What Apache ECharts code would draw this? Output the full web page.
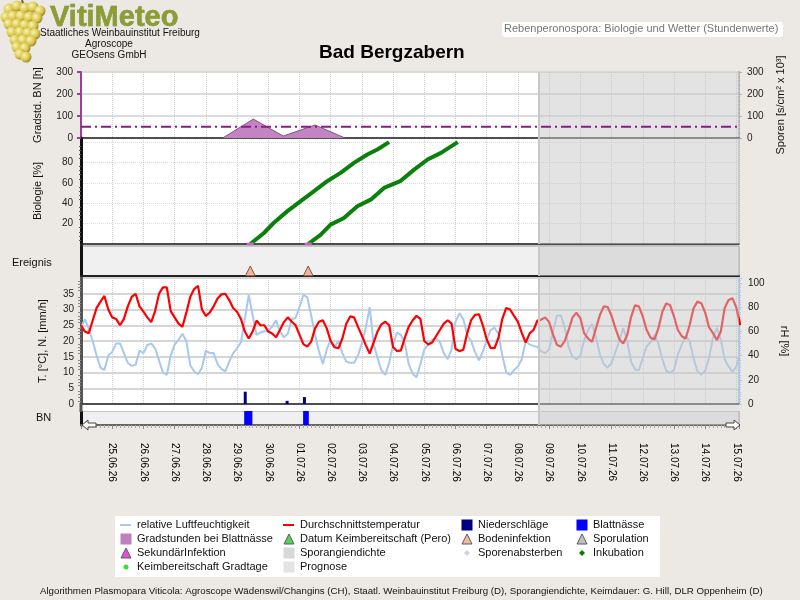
<!DOCTYPE html>
<html>
<head>
<meta charset="utf-8">
<title>Bad Bergzabern</title>
<script src="https://cdn.jsdelivr.net/npm/echarts@6.0.0/dist/echarts.min.js"></script>
<style>
  html, body { margin: 0; padding: 0; background: #ece9e4; }
  #myChart { width: 800px; height: 600px; }
</style>
</head>
<body>
<div id="myChart"></div>
<script>
// Zeitachse in Stunden ab 24.06.26 00:00, Wetterwerte alle 3 Stunden
const schritt = 3
const achseEnde = 506
const prognoseStart = 352.2

const tage = ['24.06.26', '25.06.26', '26.06.26', '27.06.26', '28.06.26', '29.06.26', '30.06.26',
  '01.07.26', '02.07.26', '03.07.26', '04.07.26', '05.07.26', '06.07.26', '07.07.26', '08.07.26',
  '09.07.26', '10.07.26', '11.07.26', '12.07.26', '13.07.26', '14.07.26', '15.07.26']

const temperatur = [
  25, 23, 22.5, 26.5, 30.5, 32.5, 34.3, 30,
  27.5, 27, 25, 27, 31, 34, 35, 31,
  29.3, 27.5, 26, 29.5, 35, 37, 37, 29.5,
  27.5, 25.5, 24.5, 29, 34, 36.5, 37.5, 30,
  28, 29, 31, 33.5, 34.8, 35, 33, 30.5,
  29.3, 27, 23, 20.8, 23, 26.5, 25, 25,
  23, 22.4, 21.2, 23.5, 26, 27.5, 26.2, 25,
  22, 19, 18.2, 19.8, 24, 26.1, 26.6, 24,
  20, 18, 17.7, 20.8, 25.5, 27.8, 27.5, 24.5,
  21.7, 18.7, 16, 19.5, 23, 25.3, 26.1, 25,
  18, 16.8, 17, 21, 24.5, 26.5, 28, 27,
  20, 18.9, 19.5, 21.5, 23.5, 25.5, 26.6, 25.5,
  17.5, 16.8, 17.2, 22.5, 26.6, 28.3, 28.5, 25,
  20.5, 17.8, 17.7, 21, 27, 30.5, 30, 28,
  26.1, 22.5, 19.5, 22.4, 23.5, 26.5, 26.8, 27.5,
  26, 22, 18.8, 18.2, 20, 23.5, 27.5, 29,
  27.2, 22.4, 20.8, 19.7, 24, 28.2, 31, 30.8,
  28, 24, 20.5, 19.2, 21.8, 27.6, 31.3, 31,
  27.8, 23.5, 21, 20.5, 24, 29.2, 31.9, 31.4,
  27.8, 23.5, 21.5, 20.8, 25, 30.3, 32.5, 32,
  29, 24.3, 22.5, 20.3, 23, 30.5, 33, 33.6,
  30.5, 25
]

const luftfeuchte = [
  63, 70, 62, 52, 40, 30, 28, 40,
  43, 50, 50, 42, 34, 31.5, 32.5, 44,
  42, 48.5, 50, 46, 36, 26, 24, 40,
  49, 53, 58, 52, 32, 27, 24.5, 30,
  44, 42, 42, 33, 29, 27, 35, 42,
  46, 51, 70, 90, 73, 57, 59, 60,
  60, 64, 69, 60, 55, 58, 70, 71,
  80, 90, 88, 73, 57, 43.5, 33, 45,
  53, 47, 52, 42, 35, 34, 34, 40,
  50, 63, 80, 50, 38, 28, 24, 34,
  49, 59, 57, 50, 33, 25, 22, 33,
  45, 49, 53, 54, 51, 42, 37, 45,
  68, 75, 70, 57, 52, 43, 36, 43,
  53, 61, 63, 58, 40, 26, 24, 28,
  31, 37, 52, 49, 48, 47, 43.5, 42,
  45, 60, 73, 73, 63, 47, 39, 37,
  40, 53, 61, 66, 55, 41, 33, 30,
  34, 43, 52, 62.8, 52, 35, 28.5, 28,
  38, 47.7, 51, 57, 50, 37, 27.5, 25.6,
  28, 41, 49, 56, 52, 38, 27, 24.2,
  27.5, 38, 55, 62.8, 53, 37, 31, 26.5,
  31, 43.5
]

// [Stunde, mm/h]
const niederschlag = [[126.3, 3.9], [158.5, 1.0], [171.8, 2.2]]
// [von Stunde, bis Stunde]
const blattnaesse = [[125.5, 131.8], [170.8, 175.2]]
// [Stunde, Gradstunden]
const gradstunden = [[109, 0], [132.5, 86], [155.5, 9], [180, 59], [203, 0]]
const gradstundenSchwelle = 51
// [Stunde, %]
const inkubation1 = [[130.2, 0], [140.7, 10.8], [148.1, 20.6], [158.5, 32], [168.7, 41.9], [179, 51.7],
  [189.3, 61.6], [199.6, 69.8], [209.9, 79.6], [220.2, 87.8], [227.9, 92.7], [236.9, 100]]
const inkubation2 = [[174.7, 0], [184.2, 9], [191.9, 19], [202.2, 25.5], [212.5, 37], [222.8, 43.5],
  [233, 55], [245.9, 62], [256.2, 73], [266.5, 82.9], [276.8, 89.4], [289.7, 100]]
const bodeninfektion = [130.2, 174.7]
const sekundaerinfektion = [130.2, 174.7]

const schrift = 'Liberation Sans, Arial, sans-serif'

function svgIcon(inner) {
  return 'image://data:image/svg+xml;charset=utf-8,' + encodeURIComponent(
    '<svg xmlns="http://www.w3.org/2000/svg" width="12" height="12" viewBox="0 0 12 12">' + inner + '</svg>')
}
const linie = (c) => svgIcon('<rect x="0" y="5" width="11" height="2" fill="' + c + '"/>')
const quadrat = (c) => svgIcon('<rect x="0.5" y="0.5" width="11" height="11" fill="' + c + '"/>')
const dreieck = (c) => svgIcon('<path d="M6 1 L11 11 L1 11 Z" fill="' + c + '" stroke="#333" stroke-width="1"/>')
const raute = (c) => svgIcon('<path d="M6 3 L9 6 L6 9 L3 6 Z" fill="' + c + '"/>')
const punkt = (c) => svgIcon('<circle cx="6" cy="6" r="2.5" fill="' + c + '"/>')

const paare = (arr) => arr.map((v, i) => [i * schritt, v])

const gridFarben = ['#ffffff', '#ffffff', '#f0f0f0', '#ffffff', '#f0f0f0']
const grids = [
  { top: 72, height: 66 },
  { top: 138, height: 106 },
  { top: 246, height: 30 },
  { top: 278, height: 126 },
  { top: 411, height: 14 }
].map((g, i) => ({
  left: 81, right: 61, top: g.top, height: g.height, show: true,
  backgroundColor: gridFarben[i], borderWidth: (i === 1 || i === 2 || i === 4) ? 1 : 0, borderColor: '#999'
}))

const tagLinie = { show: true, lineStyle: { type: 'dotted', color: '#cfcfcf', width: 1 } }
const xAxes = [0, 1, 2, 3, 4].map((i) => ({
  type: 'value', gridIndex: i, min: 0, max: achseEnde, interval: 24,
  axisLine: { show: true, onZero: false, lineStyle: { color: i === 4 ? '#666' : '#222', width: i === 4 || i === 2 ? 2 : 1.5 } },
  axisTick: { show: i === 4, length: 4, lineStyle: { color: '#888' } },
  minorTick: { show: i === 4, splitNumber: 8, length: 3, lineStyle: { color: '#aaa' } },
  splitLine: (i === 0 || i === 1 || i === 3) ? tagLinie : { show: false },
  axisLabel: i === 4 ? {
    show: true, rotate: -90, margin: 18, fontSize: 10, color: '#000', fontFamily: schrift,
    showMinLabel: false,
    formatter: (v) => (v % 24 === 0 && v > 0) ? tage[v / 24] : ''
  } : { show: false }
}))

const tickLabel = { fontSize: 10, color: '#222', fontFamily: schrift }
const achsenName = { fontSize: 11, color: '#111', fontFamily: schrift }

const yAxes = [
  {
    gridIndex: 0, type: 'value', min: 0, max: 300, interval: 100, position: 'left',
    name: 'Gradstd. BN [h]', nameLocation: 'middle', nameRotate: 90, nameGap: 38, nameTextStyle: achsenName,
    axisLine: { show: true, lineStyle: { color: '#a03aa0', width: 2 } },
    axisTick: { show: true, length: 4, lineStyle: { color: '#a03aa0', width: 2 } },
    axisLabel: { ...tickLabel, margin: 8 },
    splitLine: { show: true, lineStyle: { color: '#dcdcdc', width: 2 } }
  },
  {
    gridIndex: 0, type: 'value', min: 0, max: 300, interval: 100, position: 'right',
    name: 'Sporen [s/cm² x 10³]', nameLocation: 'middle', nameRotate: 90, nameGap: 36, nameTextStyle: achsenName,
    axisLine: { show: true, lineStyle: { color: '#b0b0b0', width: 2, type: 'dotted' } },
    axisTick: { show: true, length: 3, lineStyle: { color: '#b0b0b0' } },
    axisLabel: { ...tickLabel, margin: 8 },
    splitLine: { show: false }
  },
  {
    gridIndex: 1, type: 'value', min: 0, max: 104, interval: 20,
    name: 'Biologie [%]', nameLocation: 'middle', nameRotate: 90, nameGap: 38, nameTextStyle: achsenName,
    axisLine: { show: true, lineStyle: { color: '#111', width: 3 } },
    axisTick: { show: false },
    minorTick: { show: true, splitNumber: 5, length: 2, lineStyle: { color: '#555' } },
    axisLabel: { ...tickLabel, margin: 8, formatter: (v) => (v % 20 === 0 && v > 0 && v < 100) ? String(v) : '' },
    splitLine: { show: true, lineStyle: { color: '#dcdcdc', type: 'dotted' } }
  },
  {
    gridIndex: 2, type: 'value', min: 0, max: 1,
    axisLine: { show: true, lineStyle: { color: '#111', width: 3 } },
    axisTick: { show: false }, axisLabel: { show: false }, splitLine: { show: false }
  },
  {
    gridIndex: 3, type: 'value', min: 0, max: 40, interval: 5, position: 'left',
    name: 'T. [°C], N. [mm/h]', nameLocation: 'middle', nameRotate: 90, nameGap: 33, nameTextStyle: achsenName,
    axisLine: { show: true, lineStyle: { color: '#555', width: 3 } },
    axisTick: { show: false },
    minorTick: { show: true, splitNumber: 5, length: 3, lineStyle: { color: '#888' } },
    axisLabel: { ...tickLabel, margin: 7, formatter: (v) => v < 40 ? String(v) : '' },
    splitLine: { show: true, lineStyle: { color: '#d6d6d6', width: 2 } }
  },
  {
    gridIndex: 3, type: 'value', min: 0, max: 104, interval: 20, position: 'right',
    name: 'rH [%]', nameLocation: 'middle', nameRotate: -90, nameGap: 40, nameTextStyle: achsenName,
    axisLine: { show: true, lineStyle: { color: '#a8c8ee', width: 2 } },
    axisTick: { show: true, length: 3, lineStyle: { color: '#a8c8ee' } },
    minorTick: { show: true, splitNumber: 10, length: 2, lineStyle: { color: '#a8c8ee' } },
    axisLabel: { ...tickLabel, margin: 9, formatter: (v) => (v % 20 === 0 && v <= 100) ? String(v) : '' },
    splitLine: { show: false }
  },
  {
    gridIndex: 4, type: 'value', min: 0, max: 1,
    axisLine: { show: true, lineStyle: { color: '#111', width: 3 } },
    axisTick: { show: false }, axisLabel: { show: false }, splitLine: { show: false }
  }
]

// Grauer Prognosebereich über jedem Teilbild
const yFuerGrid = [0, 2, 3, 4, 6]
function prognose(i, extra) {
  return {
    type: 'custom', name: 'Prognose', xAxisIndex: i, yAxisIndex: yFuerGrid[i], z: 5, silent: true,
    data: [[prognoseStart, achseEnde]], encode: { x: [0, 1] },
    renderItem: function (params, api) {
      const cs = params.coordSys
      const x0 = api.coord([api.value(0), 0])[0]
      const x1 = api.coord([api.value(1), 0])[0]
      return {
        type: 'group', children: [
          { type: 'rect', shape: { x: x0, y: cs.y, width: x1 - x0, height: cs.height + extra }, style: { fill: 'rgba(200,200,200,0.5)' } },
          { type: 'line', shape: { x1: x0, y1: cs.y, x2: x0, y2: cs.y + cs.height + extra }, style: { stroke: '#c8c8c8', lineWidth: 2 } }
        ]
      }
    }
  }
}

const legendeBasis = {
  orient: 'vertical', top: 519, itemWidth: 12, itemHeight: 12, itemGap: 2, padding: 0,
  selectedMode: false, textStyle: { fontSize: 11, color: '#111', lineHeight: 12, fontFamily: schrift }
}

// Trauben im Logo (nur Dekoration)
const trauben = [[9, 9], [17, 6], [25, 8], [33, 7], [40, 11], [6, 17], [13, 16], [21, 16], [29, 17], [37, 18],
  [9, 24], [17, 24], [25, 25], [33, 26], [12, 32], [20, 32], [28, 33], [35, 34], [15, 40], [23, 40], [31, 41],
  [17, 47], [25, 48], [20, 54], [26, 57]]

const option = {
  animation: false,
  textStyle: { fontFamily: schrift },
  title: {
    text: 'Bad Bergzabern', left: 319, top: 43, padding: 0,
    textStyle: { fontSize: 19, fontWeight: 'bold', color: '#000', fontFamily: schrift }
  },
  grid: grids,
  xAxis: xAxes,
  yAxis: yAxes,
  legend: [
    {
      ...legendeBasis, left: 120, data: [
        { name: 'relative Luftfeuchtigkeit', icon: linie('#a8c8ee') },
        { name: 'Gradstunden bei Blattnässe', icon: quadrat('#c080c0') },
        { name: 'SekundärInfektion', icon: dreieck('#e020e0') },
        { name: 'Keimbereitschaft Gradtage', icon: punkt('#00dd00') }
      ]
    },
    {
      ...legendeBasis, left: 283, data: [
        { name: 'Durchschnittstemperatur', icon: linie('#ff0000') },
        { name: 'Datum Keimbereitschaft (Pero)', icon: dreieck('#22cc22') },
        { name: 'Sporangiendichte', icon: quadrat('#d8d8d8') },
        { name: 'Prognose', icon: quadrat('#e4e4e4') }
      ]
    },
    {
      ...legendeBasis, left: 461, data: [
        { name: 'Niederschläge', icon: quadrat('#000080') },
        { name: 'Bodeninfektion', icon: dreieck('#f4a488') },
        { name: 'Sporenabsterben', icon: raute('#c8c8d8') }
      ]
    },
    {
      ...legendeBasis, left: 576, data: [
        { name: 'Blattnässe', icon: quadrat('#0000ff') },
        { name: 'Sporulation', icon: dreieck('#b0b0b0') },
        { name: 'Inkubation', icon: raute('#008000') }
      ]
    }
  ],
  graphic: [
    // Hintergrund der Legende
    { type: 'rect', z: -10, shape: { x: 115, y: 516, width: 545, height: 61 }, style: { fill: '#fff' } },
    // Logo
    {
      type: 'group', children: [
        { type: 'line', shape: { x1: 22, y1: 0, x2: 24, y2: 6 }, style: { stroke: '#6a6a20', lineWidth: 2 } }
      ].concat(trauben.map((p) => ({
        type: 'circle', shape: { cx: p[0], cy: p[1], r: 5.5 },
        style: {
          fill: new echarts.graphic.RadialGradient(0.35, 0.35, 0.75, [
            { offset: 0, color: '#faf3b0' }, { offset: 0.6, color: '#d8c44a' }, { offset: 1, color: '#8a7414' }])
        }
      })))
    },
    {
      type: 'text', x: 50, y: 3,
      style: { text: 'VitiMeteo', font: 'bold 29px ' + schrift, fill: '#8c9d34', stroke: '#6b7a22', lineWidth: 0.5 }
    },
    { type: 'text', x: 40, y: 28, style: { text: 'Staatliches Weinbauinstitut Freiburg', font: '10px ' + schrift, fill: '#111' } },
    { type: 'text', x: 109, y: 39, style: { text: 'Agroscope', font: '10px ' + schrift, fill: '#111', align: 'center', textAlign: 'center' } },
    { type: 'text', x: 109, y: 50, style: { text: 'GEOsens GmbH', font: '10px ' + schrift, fill: '#111', align: 'center', textAlign: 'center' } },
    // Untertitel
    { type: 'rect', shape: { x: 502, y: 22, width: 281, height: 15, r: 3 }, style: { fill: '#fff' } },
    { type: 'text', x: 504, y: 23, style: { text: 'Rebenperonospora: Biologie und Wetter (Stundenwerte)', font: '11px ' + schrift, fill: '#777' } },
    // Achsentitel waagrecht
    { type: 'text', x: 12, y: 257, style: { text: 'Ereignis', font: '11px ' + schrift, fill: '#111' } },
    { type: 'text', x: 36, y: 412, style: { text: 'BN', font: '11px ' + schrift, fill: '#111' } },
    // weißer Streifen unter der Nulllinie
    { type: 'rect', z: 1, shape: { x: 82, y: 405, width: 657, height: 6 }, style: { fill: '#fff' } },
    { type: 'line', z: 1, shape: { x1: 81, y1: 403, x2: 81, y2: 412 }, style: { stroke: '#555', lineWidth: 3 } },
    // Pfeile der Zeitachse
    { type: 'polygon', z: 10, shape: { points: [[82, 425], [88, 420], [88, 423], [96, 423], [96, 427], [88, 427], [88, 430]] }, style: { fill: '#fff', stroke: '#444', lineWidth: 1 } },
    { type: 'polygon', z: 10, shape: { points: [[740, 425], [734, 420], [734, 423], [726, 423], [726, 427], [734, 427], [734, 430]] }, style: { fill: '#fff', stroke: '#444', lineWidth: 1 } },
    // Fußzeile
    {
      type: 'text', x: 40, y: 586,
      style: {
        text: 'Algorithmen Plasmopara Viticola: Agroscope Wädenswil/Changins (CH), Staatl. Weinbauinstitut Freiburg (D), Sporangiendichte, Keimdauer: G. Hill, DLR Oppenheim (D)',
        font: '9.7px ' + schrift, fill: '#111'
      }
    }
  ],
  series: [
    {
      name: 'Gradstunden bei Blattnässe', type: 'line', xAxisIndex: 0, yAxisIndex: 0, data: gradstunden,
      symbol: 'none', lineStyle: { color: '#7a5a7a', width: 1 }, itemStyle: { color: '#c080c0' },
      areaStyle: { color: '#c484c4', opacity: 1 }, z: 3
    },
    {
      name: 'Schwelle', type: 'line', xAxisIndex: 0, yAxisIndex: 0,
      data: [[0, gradstundenSchwelle], [achseEnde, gradstundenSchwelle]], symbol: 'none',
      lineStyle: { color: '#8b1a89', width: 2, type: [10, 4, 2, 4] }, z: 6
    },
    { name: 'Sporangiendichte', type: 'bar', xAxisIndex: 0, yAxisIndex: 1, data: [] },
    {
      name: 'Inkubation', type: 'line', xAxisIndex: 1, yAxisIndex: 2, data: inkubation1,
      symbol: 'none', lineStyle: { color: '#0b800b', width: 4 }, itemStyle: { color: '#0b800b' }, z: 3
    },
    {
      name: 'Inkubation', type: 'line', xAxisIndex: 1, yAxisIndex: 2, data: inkubation2,
      symbol: 'none', lineStyle: { color: '#0b800b', width: 4 }, itemStyle: { color: '#0b800b' }, z: 3
    },
    {
      name: 'SekundärInfektion', type: 'scatter', xAxisIndex: 1, yAxisIndex: 2,
      data: sekundaerinfektion.map((h) => [h, 0]), symbol: 'rect', symbolSize: [7, 3],
      itemStyle: { color: '#e070e0' }, z: 4
    },
    { name: 'Sporenabsterben', type: 'scatter', xAxisIndex: 1, yAxisIndex: 2, data: [] },
    { name: 'Keimbereitschaft Gradtage', type: 'scatter', xAxisIndex: 1, yAxisIndex: 2, data: [] },
    {
      name: 'Bodeninfektion', type: 'scatter', xAxisIndex: 2, yAxisIndex: 3,
      data: bodeninfektion.map((h) => [h, 0]), symbol: 'triangle', symbolSize: [10, 10], symbolOffset: [0, -5],
      itemStyle: { color: '#f4a488', borderColor: '#5a3a2a', borderWidth: 1 }, z: 3
    },
    { name: 'Datum Keimbereitschaft (Pero)', type: 'scatter', xAxisIndex: 2, yAxisIndex: 3, data: [] },
    { name: 'Sporulation', type: 'scatter', xAxisIndex: 2, yAxisIndex: 3, data: [] },
    {
      name: 'relative Luftfeuchtigkeit', type: 'line', xAxisIndex: 3, yAxisIndex: 5, data: paare(luftfeuchte),
      symbol: 'none', lineStyle: { color: '#a8c8ee', width: 2 }, itemStyle: { color: '#a8c8ee' }, z: 2
    },
    {
      name: 'Durchschnittstemperatur', type: 'line', xAxisIndex: 3, yAxisIndex: 4, data: paare(temperatur),
      symbol: 'none', lineStyle: { color: '#ff0000', width: 2.2 }, itemStyle: { color: '#ff0000' }, z: 3
    },
    {
      name: 'Niederschläge', type: 'bar', xAxisIndex: 3, yAxisIndex: 4, data: niederschlag,
      barWidth: 3, itemStyle: { color: '#000080' }, z: 3
    },
    {
      name: 'Blattnässe', type: 'custom', xAxisIndex: 4, yAxisIndex: 6, data: blattnaesse, encode: { x: [0, 1] },
      z: 3,
      renderItem: function (params, api) {
        const cs = params.coordSys
        const x0 = api.coord([api.value(0), 0])[0]
        const x1 = api.coord([api.value(1), 0])[0]
        return { type: 'rect', shape: { x: x0, y: cs.y, width: x1 - x0, height: cs.height }, style: { fill: '#0000ff' } }
      }
    },
    prognose(0, 0),
    prognose(1, 0),
    prognose(2, 0),
    prognose(3, 7),
    prognose(4, 0)
  ]
}

let myChart = echarts.init(document.getElementById('myChart'))
myChart.setOption(option, true)
</script>
</body>
</html>
